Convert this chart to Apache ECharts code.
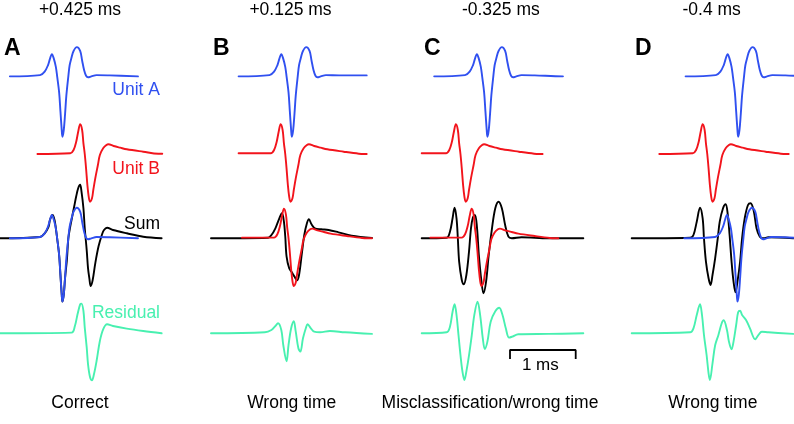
<!DOCTYPE html>
<html>
<head>
<meta charset="utf-8">
<script src="https://cdn.jsdelivr.net/npm/echarts@6.0.0/dist/echarts.min.js"></script>
<style>html,body{margin:0;padding:0;background:#fff}#c{width:794px;height:424px}</style>
</head>
<body>
<div id="c"></div>
<script>
// ---------- DATA (time in ms, amplitude in arbitrary units, up = positive) ----------
const panelLetters = ['A', 'B', 'C', 'D'];
const offsetLabels = ['+0.425 ms', '+0.125 ms', '-0.325 ms', '-0.4 ms'];
const outcomeLabels = ['Correct', 'Wrong time', 'Misclassification/wrong time', 'Wrong time'];
const traceLabels = ['Unit A', 'Unit B', 'Sum', 'Residual'];

// spike templates, time from template onset
const unitA = [[0,0],[0.46,1.3],[0.53,5],[0.58,11.6],[0.61,18.3],[0.64,23.3],[0.67,18.3],[0.70,10],[0.72,0],[0.75,-16.7],[0.77,-36.7],[0.79,-56.7],[0.80,-63.3],[0.82,-56.7],[0.84,-40],[0.86,-20],[0.89,0],[0.91,11.6],[0.94,20],[0.97,26.6],[1.02,30.6],[1.07,26.6],[1.10,16.6],[1.13,6.6],[1.16,0.6],[1.19,-1],[1.24,0],[1.32,1.3],[1.52,1],[1.95,0]];
const unitB = [[0,0],[0.50,0.7],[0.55,4],[0.59,12.3],[0.62,22.3],[0.65,29.7],[0.68,24],[0.70,10.7],[0.72,0],[0.74,-14.3],[0.76,-31],[0.78,-42.7],[0.80,-47.7],[0.83,-44.3],[0.85,-36],[0.88,-24.3],[0.92,-11],[0.95,-1],[1.00,5.7],[1.05,9],[1.08,9.7],[1.16,8],[1.26,6.3],[1.36,4.7],[1.61,2.3],[1.84,0.3],[1.92,0]];

// summed waveforms per panel
const sumA = [[0,0],[0.61,1.3],[0.68,5],[0.74,11.6],[0.76,18.3],[0.80,23.3],[0.83,18.3],[0.85,10],[0.87,0],[0.90,-16.7],[0.92,-36.7],[0.94,-56.7],[0.95,-63.3],[0.97,-56.7],[0.99,-40],[1.02,-20],[1.04,0],[1.07,12],[1.10,22],[1.13,32],[1.16,42],[1.19,50],[1.22,53.5],[1.24,47],[1.27,30],[1.29,10],[1.32,-12],[1.34,-30],[1.36,-40],[1.38,-47.7],[1.41,-42],[1.45,-25],[1.50,-8],[1.55,3.3],[1.58,8],[1.63,10.6],[1.72,8.3],[1.93,5],[2.18,1.6],[2.46,0]];
const sumB = [[0,0],[0.87,0.6],[0.92,3.3],[0.98,10],[1.04,20],[1.08,25],[1.11,16.6],[1.13,2],[1.15,-18],[1.19,-30],[1.23,-34],[1.27,-38.3],[1.31,-42],[1.34,-36.7],[1.38,-16.7],[1.42,3.3],[1.46,15],[1.49,19],[1.53,14],[1.58,10],[1.68,9],[1.79,8.3],[1.94,6],[2.14,2.6],[2.45,0.3]];
const sumC = [[0,0],[0.38,0.6],[0.43,6.6],[0.47,20],[0.50,30.6],[0.53,20],[0.55,0],[0.57,-23.3],[0.61,-41.7],[0.64,-46],[0.68,-36.7],[0.72,-13.3],[0.75,10],[0.78,21],[0.81,23.3],[0.84,12],[0.87,-16.7],[0.91,-43.3],[0.94,-55],[0.98,-43.3],[1.02,-16.7],[1.07,10],[1.12,30],[1.17,36.6],[1.22,30],[1.27,13.3],[1.32,1.6],[1.37,0],[1.52,1],[1.93,0],[2.46,0]];
const sumD = [[0,0],[0.89,0.6],[0.94,3.3],[0.99,16.6],[1.04,30.6],[1.08,20],[1.10,0],[1.13,-23.3],[1.17,-40],[1.20,-46.7],[1.23,-36.7],[1.27,-20],[1.31,0],[1.34,16.6],[1.39,30],[1.43,34],[1.46,25],[1.49,3.3],[1.52,-23.3],[1.55,-43.3],[1.58,-54],[1.61,-43.3],[1.65,-23.3],[1.68,0],[1.72,20],[1.77,33.3],[1.81,35],[1.86,26.6],[1.90,10],[1.95,1.6],[2.00,0],[2.08,1],[2.46,0]];

// residual waveforms per panel
const residualA = [[0,0],[1.09,0.7],[1.14,7.3],[1.18,19],[1.22,29],[1.24,29.7],[1.27,22.3],[1.29,5.7],[1.32,-14.3],[1.34,-31],[1.37,-43.7],[1.40,-47],[1.43,-41],[1.47,-27.7],[1.52,-7.7],[1.57,4],[1.63,9],[1.72,7.3],[1.93,4.7],[2.18,2.3],[2.46,0]];
const residualB = [[0,0],[0.82,1],[0.92,3.3],[0.98,7.3],[1.02,10],[1.07,3.3],[1.10,-11.7],[1.15,-28],[1.18,-11.7],[1.22,5],[1.26,12],[1.29,1.6],[1.33,-15],[1.36,-18.3],[1.40,-5],[1.45,6.6],[1.47,9],[1.52,5],[1.57,1.6],[1.66,1],[1.81,2.3],[2.04,1],[2.45,-0.6]];
const residualC = [[0,0],[0.38,1],[0.43,6.6],[0.47,21.6],[0.50,29],[0.53,18.3],[0.56,-1.7],[0.59,-21.7],[0.62,-38],[0.65,-46.7],[0.68,-38],[0.72,-22],[0.76,-3],[0.80,18],[0.85,31.6],[0.89,18],[0.93,-5],[0.96,-15.7],[1.00,-8.3],[1.05,11.6],[1.12,22],[1.18,25.6],[1.23,18.3],[1.28,5],[1.33,-4.3],[1.38,-3.3],[1.47,-1],[1.93,-0.6],[2.46,0]];
const residualD = [[0,0],[0.89,1],[0.94,5],[0.99,18.3],[1.04,29],[1.07,18.3],[1.10,-1.7],[1.14,-21.7],[1.17,-40],[1.19,-46.7],[1.23,-30],[1.27,-12],[1.32,-1.6],[1.37,10],[1.40,13],[1.45,3.3],[1.48,-8.3],[1.52,-16],[1.55,-8.3],[1.59,8.3],[1.62,21],[1.65,22.6],[1.68,18.3],[1.74,13.3],[1.80,5],[1.88,-6],[1.93,-1.6],[1.98,1.6],[2.08,1],[2.46,-0.6]];

const sums = [sumA, sumB, sumC, sumD];
const residuals = [residualA, residualB, residualC, residualD];

// template placement per panel: onset time (ms) and visible window [from, to]
const unitAOnset = [0.15, 0.43, 0.20, 0.82];
const unitAWindow = [[0.15, 2.10], [0.42, 2.37], [0.19, 2.16], [0.82, 2.80]];
const unitBOnset = [0.57, 0.41, -0.13, 0.43];
const unitBWindow = [[0.57, 2.47], [0.42, 2.37], [0, 1.84], [0.42, 2.39]];
const fittedUnit = ['A', 'B', 'B', 'A'];
const fittedOnset = [0.15, 0.46, 0.11, 0.81];
const fittedWindow = [[0.15, 2.10], [0.47, 2.45], [0.13, 2.08], [0.80, 2.80]];

const scaleBarMs = 1;

// ---------- LAYOUT / STYLE ----------
const BLUE = '#3050F0', RED = '#F2141C', GREEN = '#48F0B0', BLACK = '#000000';
const FONT = '"Liberation Sans", Arial, sans-serif';
const LW = 1.9;
const pxPerMs = 65.7;
const xSpan = 2.47;
const panelLeft = [0, 211, 421.7, 631.7];
const rowBase = [72.7, 154, 238.3, 333.3];
const halfRange = 80;

function place(tpl, onset, win) {
  const pts = tpl.map(p => [p[0] + onset, p[1]]).filter(p => p[0] >= win[0] && p[0] <= win[1]);
  if (pts.length && pts[0][0] > win[0]) pts.unshift([win[0], pts[0][1]]);
  if (pts.length && pts[pts.length - 1][0] < win[1]) pts.push([win[1], pts[pts.length - 1][1]]);
  return pts;
}

const grid = [], xAxis = [], yAxis = [], series = [];
function gi(p, r) { return p * 4 + r; }
for (let p = 0; p < 4; p++) {
  for (let r = 0; r < 4; r++) {
    grid.push({ left: panelLeft[p], top: rowBase[r] - halfRange, width: xSpan * pxPerMs, height: 2 * halfRange });
    xAxis.push({ type: 'value', gridIndex: gi(p, r), min: 0, max: xSpan, show: false });
    yAxis.push({ type: 'value', gridIndex: gi(p, r), min: -halfRange, max: halfRange, show: false });
  }
}
function line(data, idx, color, width, z) {
  return { type: 'line', xAxisIndex: idx, yAxisIndex: idx, data: data, showSymbol: false, symbol: 'none',
    smooth: 0.35, clip: false, z: z || 2, silent: true,
    lineStyle: { color: color, width: width || LW, join: 'round', cap: 'round' } };
}
for (let p = 0; p < 4; p++) {
  series.push(line(place(unitA, unitAOnset[p], unitAWindow[p]), gi(p, 0), BLUE));
  series.push(line(place(unitB, unitBOnset[p], unitBWindow[p]), gi(p, 1), RED));
  series.push(line(sums[p], gi(p, 2), BLACK, LW, 2));
  const tpl = fittedUnit[p] === 'A' ? unitA : unitB;
  const col = fittedUnit[p] === 'A' ? BLUE : RED;
  series.push(line(place(tpl, fittedOnset[p], fittedWindow[p]), gi(p, 2), col, LW, 3));
  series.push(line(residuals[p], gi(p, 3), GREEN));
}
// 1 ms scale bar in panel C residual row
const barStart = 1.344;
series.push({ type: 'line', xAxisIndex: gi(2, 3), yAxisIndex: gi(2, 3), symbol: 'none', clip: false, silent: true,
  data: [[barStart, -25.7], [barStart, -16.7], [barStart + scaleBarMs, -16.7], [barStart + scaleBarMs, -25.7]],
  lineStyle: { color: BLACK, width: 1.8 } });

const graphic = [];
function txt(s, x, y, opts) {
  graphic.push({ type: 'text', x: x, y: y, silent: true,
    style: Object.assign({ text: s, fill: '#000', font: '17.5px ' + FONT, textAlign: 'center', textVerticalAlign: 'middle' }, opts || {}) });
}
const titleX = [80, 290.5, 500.8, 711.7];
const letterX = [4, 213, 424, 635];
const bottomX = [80, 291.7, 490, 712.8];
for (let p = 0; p < 4; p++) {
  txt(offsetLabels[p], titleX[p], 10);
  txt(panelLetters[p], letterX[p], 49, { font: 'bold 23px ' + FONT, textAlign: 'left' });
  txt(outcomeLabels[p], bottomX[p], 403);
}
const labelY = [90, 169, 224, 313];
const labelCol = [BLUE, RED, BLACK, GREEN];
for (let r = 0; r < 4; r++) txt(traceLabels[r], 160, labelY[r], { fill: labelCol[r], textAlign: 'right' });
txt(scaleBarMs + ' ms', 540.3, 365.5, { font: '17px ' + FONT });

const chart = echarts.init(document.getElementById('c'), null, { renderer: 'canvas' });
chart.setOption({ animation: false, backgroundColor: '#fff', grid, xAxis, yAxis, series, graphic });
</script>
</body>
</html>
